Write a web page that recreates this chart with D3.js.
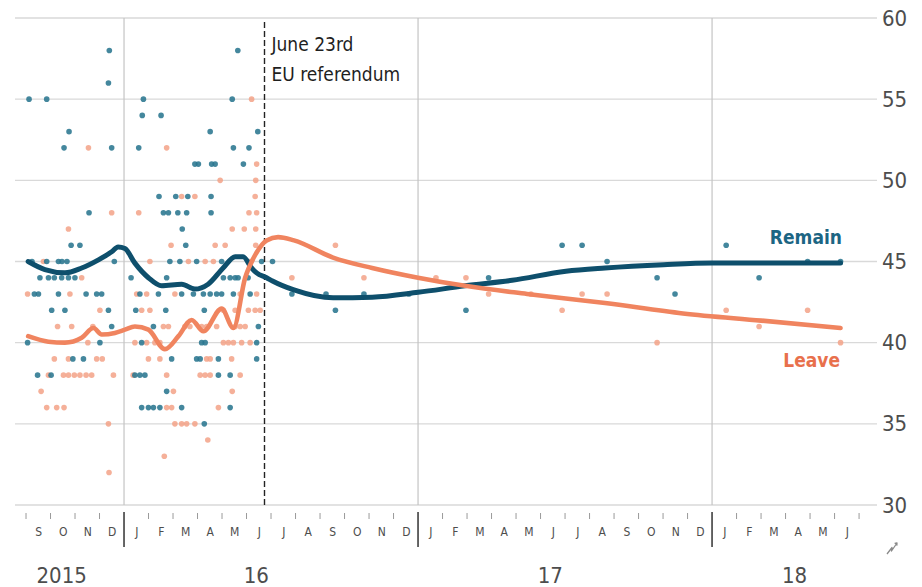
<!DOCTYPE html>
<html>
<head>
<meta charset="utf-8">
<script src="https://cdn.jsdelivr.net/npm/d3@7/dist/d3.min.js"></script>
<style>
  html, body { margin: 0; padding: 0; background: #ffffff; }
  svg { display: block; }
  text { font-family: "Liberation Sans Narrow", "DejaVu Sans Condensed", "Roboto Condensed", sans-serif; }
</style>
</head>
<body>
<svg id="chart" width="922" height="587"></svg>
<script>
// Brexit polling: "Should the UK remain in or leave the EU?" (% of respondents)
// Time is expressed as decimal years.

const yTicks = [30, 35, 40, 45, 50, 55, 60];
const monthLetters = ["J", "F", "M", "A", "M", "J", "J", "A", "S", "O", "N", "D"];
const yearLabels = ["2015", "16", "17", "18"];
const referendumDate = 2016 + (5 + 22 / 30) / 12;
const referendumText = ["June 23rd", "EU referendum"];

// Individual polls, Remain share
const remainPolls = [
  [2015.950, 58], [2016.387, 58],
  [2015.947, 56],
  [2015.677, 55], [2015.737, 55], [2016.066, 55], [2016.368, 55],
  [2016.062, 54], [2016.126, 54],
  [2015.813, 53], [2016.293, 53], [2016.455, 53],
  [2015.796, 52], [2015.958, 52], [2016.050, 52], [2016.372, 52], [2016.425, 52],
  [2016.241, 51], [2016.253, 51], [2016.298, 51], [2016.310, 51], [2016.406, 51],
  [2016.119, 49], [2016.176, 49], [2016.217, 49], [2016.296, 49],
  [2015.881, 48], [2016.134, 48], [2016.151, 48], [2016.183, 48], [2016.213, 48], [2016.296, 48],
  [2016.198, 47],
  [2015.820, 46], [2015.850, 46], [2016.210, 46],
  [2015.687, 45], [2015.737, 45], [2015.777, 45], [2015.789, 45], [2015.806, 45], [2015.967, 45],
  [2016.156, 45], [2016.190, 45], [2016.247, 45], [2016.332, 45], [2016.468, 45],
  [2015.714, 44], [2015.743, 44], [2015.763, 44], [2015.788, 44], [2015.811, 44], [2015.833, 44],
  [2016.024, 44], [2016.145, 44], [2016.338, 44], [2016.361, 44], [2016.378, 44], [2016.388, 44], [2016.422, 44],
  [2015.695, 43], [2015.709, 43], [2015.777, 43], [2015.871, 43], [2015.907, 43], [2015.924, 43],
  [2016.054, 43], [2016.117, 43], [2016.196, 43], [2016.236, 43], [2016.270, 43], [2016.293, 43],
  [2016.315, 43], [2016.332, 43], [2016.372, 43], [2016.429, 43],
  [2015.754, 42], [2015.799, 42], [2015.947, 42], [2016.040, 42], [2016.142, 42], [2016.273, 42],
  [2015.958, 41], [2016.100, 41], [2016.457, 41],
  [2015.672, 40], [2015.918, 40], [2016.060, 40], [2016.264, 40], [2016.276, 40], [2016.451, 40],
  [2015.826, 39], [2015.862, 39], [2016.162, 39], [2016.247, 39], [2016.259, 39], [2016.321, 39], [2016.451, 39],
  [2015.706, 38], [2015.752, 38], [2016.037, 38], [2016.054, 38], [2016.071, 38], [2016.321, 38], [2016.361, 38],
  [2016.145, 37],
  [2016.060, 36], [2016.083, 36], [2016.100, 36], [2016.122, 36], [2016.196, 36], [2016.361, 36],
  [2016.273, 35],
  [2016.505, 45], [2016.571, 43], [2016.687, 43], [2016.719, 42], [2016.816, 43], [2016.969, 43],
  [2017.163, 42], [2017.240, 44], [2017.490, 46], [2017.558, 46], [2017.643, 45], [2017.813, 44],
  [2017.874, 43], [2018.048, 46], [2018.160, 44], [2018.325, 45], [2018.437, 45]
];

// Individual polls, Leave share
const leavePolls = [
  [2016.434, 55],
  [2015.879, 52], [2016.145, 52],
  [2016.451, 51],
  [2016.327, 50], [2016.448, 50],
  [2016.196, 49], [2016.241, 49], [2016.446, 49],
  [2015.958, 48], [2016.050, 48], [2016.425, 48], [2016.451, 48],
  [2015.811, 47], [2016.368, 47], [2016.409, 47], [2016.448, 47],
  [2016.160, 46], [2016.310, 46], [2016.344, 46], [2016.448, 46],
  [2015.726, 45], [2016.088, 45], [2016.219, 45], [2016.276, 45], [2016.304, 45], [2016.429, 45],
  [2015.856, 44],
  [2015.672, 43], [2015.816, 43], [2016.043, 43], [2016.077, 43], [2016.173, 43], [2016.395, 43], [2016.451, 43],
  [2015.918, 42], [2016.060, 42], [2016.088, 42], [2016.338, 42], [2016.378, 42], [2016.423, 42], [2016.446, 42], [2016.463, 42],
  [2015.774, 41], [2015.822, 41], [2015.894, 41], [2016.134, 41], [2016.151, 41], [2016.207, 41], [2016.224, 41],
  [2016.264, 41], [2016.281, 41], [2016.315, 41], [2016.378, 41], [2016.395, 41], [2016.412, 41],
  [2015.877, 40], [2016.037, 40], [2016.077, 40], [2016.105, 40], [2016.122, 40], [2016.338, 40],
  [2016.355, 40], [2016.372, 40], [2016.400, 40], [2016.429, 40],
  [2015.763, 39], [2015.811, 39], [2015.907, 39], [2015.926, 39], [2016.083, 39], [2016.122, 39],
  [2016.281, 39], [2016.293, 39], [2016.366, 39],
  [2015.743, 38], [2015.794, 38], [2015.811, 38], [2015.831, 38], [2015.850, 38], [2015.871, 38], [2015.890, 38],
  [2015.964, 38], [2016.031, 38], [2016.145, 38], [2016.259, 38], [2016.276, 38], [2016.293, 38], [2016.395, 38],
  [2015.718, 37], [2016.168, 37], [2016.368, 37],
  [2015.737, 36], [2015.771, 36], [2015.796, 36], [2016.145, 36], [2016.162, 36], [2016.321, 36],
  [2015.947, 35], [2016.173, 35], [2016.196, 35], [2016.213, 35], [2016.241, 35],
  [2016.285, 34],
  [2016.137, 33],
  [2015.949, 32],
  [2016.571, 44], [2016.719, 46], [2016.816, 44], [2017.061, 44], [2017.163, 44], [2017.240, 43],
  [2017.384, 43], [2017.490, 42], [2017.558, 43], [2017.643, 43], [2017.813, 40], [2018.048, 42],
  [2018.160, 41], [2018.325, 42], [2018.437, 40]
];

// Poll-of-polls trend lines
const remainTrend = [
  [2015.674, 45.0], [2015.731, 44.5], [2015.799, 44.3], [2015.856, 44.6], [2015.913, 45.1],
  [2015.958, 45.6], [2015.980, 45.9], [2016.003, 45.8], [2016.037, 44.9], [2016.083, 44.0],
  [2016.128, 43.5], [2016.196, 43.6], [2016.241, 43.3], [2016.286, 43.6], [2016.337, 44.6],
  [2016.378, 45.3], [2016.405, 45.3], [2016.434, 44.6], [2016.451, 44.3], [2016.485, 44.0],
  [2016.505, 43.8], [2016.578, 43.25], [2016.711, 42.76], [2016.844, 42.8], [2017.000, 43.1],
  [2017.160, 43.5], [2017.320, 43.84], [2017.503, 44.4], [2017.636, 44.6], [2017.835, 44.8],
  [2018.000, 44.9], [2018.167, 44.9], [2018.437, 44.9]
];

const leaveTrend = [
  [2015.674, 40.4], [2015.743, 40.06], [2015.799, 40.0], [2015.856, 40.3], [2015.896, 40.9],
  [2015.924, 40.5], [2015.969, 40.6], [2016.003, 40.8], [2016.037, 41.0], [2016.083, 40.8],
  [2016.139, 39.6], [2016.185, 40.4], [2016.230, 41.4], [2016.270, 40.7], [2016.332, 42.1],
  [2016.372, 40.9], [2016.412, 44.0], [2016.446, 45.4], [2016.485, 46.3], [2016.524, 46.5],
  [2016.578, 46.3], [2016.711, 45.24], [2016.844, 44.6], [2017.000, 44.0], [2017.160, 43.5],
  [2017.371, 43.0], [2017.636, 42.44], [2017.901, 41.8], [2018.167, 41.36], [2018.437, 40.9]
];

const colors = {
  remainLine: "#0e4f6c",
  remainDot: "#2a7690",
  leaveLine: "#f0845f",
  leaveDot: "#f3a287",
  grid: "#d9d9d9",
  yearLine: "#c4c4c4",
  axisText: "#4d4d4d",
  annotation: "#1f1f1f"
};

const svg = d3.select("#chart");

const x = d3.scaleLinear().domain([2015.636, 2018.561]).range([17, 877]);
const y = d3.scaleLinear().domain([30, 60]).range([505, 18]);

// Horizontal gridlines
svg.append("g")
  .selectAll("line")
  .data(yTicks)
  .join("line")
  .attr("x1", 15).attr("x2", x.range()[1])
  .attr("y1", d => y(d)).attr("y2", d => y(d))
  .attr("stroke", colors.grid)
  .attr("stroke-width", 1.4);

// Y axis labels on the right
const yAxis = d3.axisRight(y).tickValues(yTicks).tickSize(0).tickPadding(5);
const gy = svg.append("g").attr("transform", `translate(${x.range()[1]},0)`).call(yAxis);
gy.select(".domain").remove();
gy.selectAll("text")
  .attr("fill", colors.axisText)
  .style("font-size", "22px");

// Month boundaries and year boundaries
const firstMonth = 2015 * 12 + 8;   // September 2015
const lastMonth = 2018 * 12 + 6;    // July 2018
const monthStarts = d3.range(firstMonth, lastMonth + 1).map(m => ({
  t: Math.floor(m / 12) + (m % 12) / 12,
  isYear: m % 12 === 0,
  idx: m % 12
}));

// Year separators inside the plot
svg.append("g")
  .selectAll("line")
  .data(monthStarts.filter(d => d.isYear))
  .join("line")
  .attr("x1", d => x(d.t)).attr("x2", d => x(d.t))
  .attr("y1", y(60)).attr("y2", y(30))
  .attr("stroke", colors.yearLine)
  .attr("stroke-width", 1.2);

// Tick marks below the axis
svg.append("g")
  .selectAll("line")
  .data(monthStarts)
  .join("line")
  .attr("x1", d => x(d.t)).attr("x2", d => x(d.t))
  .attr("y1", d => d.isYear ? 512 : 513)
  .attr("y2", d => d.isYear ? 547 : 519)
  .attr("stroke", d => d.isYear ? "#555555" : "#9a9a9a")
  .attr("stroke-width", d => d.isYear ? 1.8 : 1);

// Month letters centred within each month
const monthMids = monthStarts.slice(0, -1).map(d => d.t + 1 / 24);
const xAxis = d3.axisBottom(x)
  .tickValues(monthMids)
  .tickSize(0)
  .tickPadding(0)
  .tickFormat(t => monthLetters[Math.round((t - Math.floor(t)) * 12 - 0.5)]);
const gx = svg.append("g").attr("transform", "translate(0,527)").call(xAxis);
gx.select(".domain").remove();
gx.selectAll("text")
  .attr("fill", colors.axisText)
  .style("font-size", "12px");

// Year labels under the month row, centred on the visible part of each year
const [tLo, tHi] = x.domain();
svg.append("g")
  .selectAll("text")
  .data(yearLabels)
  .join("text")
  .attr("x", (d, i) => {
    const yr = 2015 + i;
    return x((Math.max(tLo + 0.04, yr) + Math.min(tHi, yr + 0.9)) / 2);
  })
  .attr("y", 583)
  .attr("text-anchor", "middle")
  .attr("fill", colors.axisText)
  .style("font-size", "22px")
  .text(d => d);

// Axis-break mark
svg.append("path")
  .attr("d", "M887,554 L892,547.5 L891.5,551 L897,543 M894.6,543.4 L897,543 L896.8,545.6")
  .attr("fill", "none")
  .attr("stroke", "#8a8a8a")
  .attr("stroke-width", 1.3)
  .attr("stroke-linejoin", "round");

// Poll dots
const dotR = 2.8;
svg.append("g")
  .selectAll("circle")
  .data(leavePolls)
  .join("circle")
  .attr("cx", d => x(d[0]))
  .attr("cy", d => y(d[1]))
  .attr("r", dotR)
  .attr("fill", colors.leaveDot)
  .attr("fill-opacity", 0.85);

svg.append("g")
  .selectAll("circle")
  .data(remainPolls)
  .join("circle")
  .attr("cx", d => x(d[0]))
  .attr("cy", d => y(d[1]))
  .attr("r", dotR)
  .attr("fill", colors.remainDot)
  .attr("fill-opacity", 0.88);

// Referendum marker
svg.append("line")
  .attr("x1", x(referendumDate)).attr("x2", x(referendumDate))
  .attr("y1", 22).attr("y2", y(30))
  .attr("stroke", "#222222")
  .attr("stroke-width", 1.4)
  .attr("stroke-dasharray", "6,3");

svg.append("text")
  .attr("x", x(referendumDate) + 7)
  .attr("y", 51)
  .attr("fill", colors.annotation)
  .style("font-size", "19px")
  .selectAll("tspan")
  .data(referendumText)
  .join("tspan")
  .attr("x", x(referendumDate) + 7)
  .attr("dy", (d, i) => i === 0 ? 0 : 30)
  .text(d => d);

// Trend lines
const line = d3.line()
  .x(d => x(d[0]))
  .y(d => y(d[1]))
  .curve(d3.curveMonotoneX);

svg.append("path")
  .datum(remainTrend)
  .attr("d", line)
  .attr("fill", "none")
  .attr("stroke", colors.remainLine)
  .attr("stroke-width", 5)
  .attr("stroke-linejoin", "round")
  .attr("stroke-linecap", "round");

svg.append("path")
  .datum(leaveTrend)
  .attr("d", line)
  .attr("fill", "none")
  .attr("stroke", colors.leaveLine)
  .attr("stroke-width", 4.6)
  .attr("stroke-linejoin", "round")
  .attr("stroke-linecap", "round");

// Series labels
svg.append("text")
  .attr("x", 842).attr("y", 244)
  .attr("text-anchor", "end")
  .attr("fill", "#1c6583")
  .style("font-size", "19px")
  .style("font-weight", "bold")
  .text("Remain");

svg.append("text")
  .attr("x", 840).attr("y", 367)
  .attr("text-anchor", "end")
  .attr("fill", "#e8704c")
  .style("font-size", "19px")
  .style("font-weight", "bold")
  .text("Leave");
</script>
</body>
</html>
